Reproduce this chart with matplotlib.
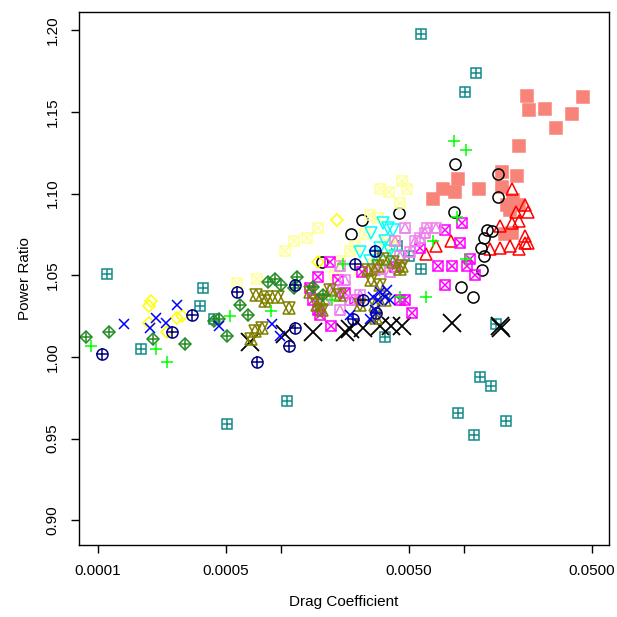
import numpy as np
import matplotlib
matplotlib.use('Agg')
import matplotlib.pyplot as plt

plt.rcParams['font.family'] = ['Liberation Sans', 'DejaVu Sans']

# (drag coefficient, power ratio) per group
teal_x = [1.12e-4, 3.75e-4, 3.6e-4, 4.3e-4, 1.72e-4, 5.1e-4, 1.08e-3, 5.8e-3, 1.16e-2, 1.01e-2,
          4.3e-3, 5.0e-3, 5.8e-3, 3.7e-3, 1.5e-2, 9.3e-3, 1.13e-2, 1.22e-2, 1.4e-2, 1.7e-2]
teal_y = [1.051, 1.042, 1.031, 1.023, 1.005, 0.959, 0.973, 1.198, 1.174, 1.162,
          1.068, 1.062, 1.054, 1.012, 1.020, 0.966, 0.952, 0.988, 0.982, 0.961]

salmon_x = [6.8e-3, 7.7e-3, 8.9e-3, 9.3e-3, 1.21e-2, 1.61e-2, 1.61e-2, 1.72e-2, 1.78e-2, 1.85e-2,
            2.0e-2, 1.67e-2, 1.83e-2, 2.21e-2, 2.26e-2, 2.77e-2, 3.18e-2, 3.9e-2, 4.47e-2, 2.0e-2, 1.95e-2]
salmon_y = [1.097, 1.103, 1.101, 1.109, 1.103, 1.113, 1.104, 1.093, 1.090, 1.096,
            1.093, 1.075, 1.076, 1.160, 1.151, 1.152, 1.140, 1.149, 1.159, 1.129, 1.111]

red_x = [1.83e-2, 2.15e-2, 2.24e-2, 1.92e-2, 1.83e-2, 2.0e-2, 1.57e-2, 1.39e-2, 8.5e-3, 1.57e-2,
         1.78e-2, 2.15e-2, 2.15e-2, 2.24e-2, 2.0e-2, 7.0e-3, 6.2e-3]
red_y = [1.103, 1.093, 1.089, 1.089, 1.082, 1.083, 1.080, 1.066, 1.071, 1.067,
         1.068, 1.070, 1.074, 1.070, 1.066, 1.068, 1.063]

black_o_x = [8.9e-3, 1.53e-2, 1.53e-2, 8.8e-3, 1.34e-2, 1.42e-2, 1.29e-2, 1.24e-2, 1.29e-2, 1.26e-2,
             9.6e-3, 1.12e-2, 2.77e-3, 4.4e-3, 2.41e-3, 1.68e-3]
black_o_y = [1.118, 1.112, 1.098, 1.089, 1.078, 1.077, 1.073, 1.067, 1.062, 1.053,
             1.043, 1.037, 1.084, 1.088, 1.075, 1.058]

bigx_x = [6.8e-4, 1.05e-3, 1.5e-3, 2.24e-3, 2.38e-3, 2.8e-3, 3.5e-3, 4.0e-3, 4.6e-3, 8.6e-3, 1.57e-2, 1.6e-2]
bigx_y = [1.009, 1.014, 1.015, 1.015, 1.017, 1.018, 1.019, 1.019, 1.019, 1.021, 1.019, 1.018]

yellow_x = [1.9e-4, 1.95e-4, 1.9e-4, 2.7e-4, 2.9e-4, 2.38e-4, 2.02e-3, 1.6e-3]
yellow_y = [1.031, 1.034, 1.021, 1.024, 1.025, 1.015, 1.084, 1.058]

lyellow_x = [5.8e-4, 7.4e-4, 1.06e-3, 1.18e-3, 1.39e-3, 1.59e-3, 4.6e-3, 4.5e-3, 3.5e-3, 3.9e-3,
             4.9e-3, 1.97e-3, 2.7e-3, 3.2e-3, 3.6e-3, 4.2e-3, 2.1e-3, 2.38e-3, 2.54e-3, 2.88e-3,
             3.06e-3, 3.4e-3, 3.7e-3, 4.0e-3]
lyellow_y = [1.045, 1.048, 1.065, 1.071, 1.073, 1.079, 1.108, 1.094, 1.103, 1.101,
             1.103, 1.050, 1.053, 1.057, 1.056, 1.071, 1.059, 1.065, 1.068, 1.075,
             1.087, 1.085, 1.071, 1.068]

cyan_x = [3.1e-3, 3.6e-3, 3.85e-3, 4.1e-3, 3.7e-3, 3.95e-3, 3.5e-3, 3.27e-3, 4.2e-3, 3.06e-3, 3.7e-3, 2.7e-3]
cyan_y = [1.076, 1.082, 1.079, 1.078, 1.071, 1.065, 1.067, 1.062, 1.062, 1.059, 1.058, 1.064]

magenta_x = [1.85e-3, 1.59e-3, 1.5e-3, 1.63e-3, 1.88e-3, 1.59e-3, 1.44e-3, 2.05e-3, 2.24e-3, 2.54e-3,
             2.77e-3, 5.75e-3, 7.9e-3, 9.75e-3, 9.5e-3, 1.08e-2, 1.15e-2, 1.04e-2, 8.6e-3, 7.9e-3,
             4.2e-3, 4.76e-3, 5.2e-3, 4.45e-3, 7.2e-3]
magenta_y = [1.058, 1.049, 1.035, 1.026, 1.019, 1.029, 1.042, 1.047, 1.039, 1.035,
             1.052, 1.067, 1.078, 1.082, 1.070, 1.060, 1.050, 1.056, 1.056, 1.044,
             1.055, 1.035, 1.027, 1.035, 1.056]

violet_x = [6.3e-3, 7.0e-3, 4.76e-3, 5.75e-3, 5.1e-3, 4.45e-3, 3.5e-3, 3.95e-3, 2.1e-3, 2.24e-3,
            1.92e-3, 2.38e-3, 2.7e-3, 1.74e-3, 2.1e-3, 3.27e-3, 4.2e-3, 5.4e-3, 6.1e-3]
violet_y = [1.079, 1.079, 1.079, 1.073, 1.064, 1.062, 1.054, 1.052, 1.056, 1.047,
            1.041, 1.035, 1.038, 1.035, 1.029, 1.053, 1.071, 1.071, 1.076]

olive_x = [7.3e-4, 8.2e-4, 8.4e-4, 9.6e-4, 1.11e-3, 7.2e-4, 7.9e-4, 6.9e-4, 2.99e-3, 3.4e-3,
           3.6e-3, 4.45e-3, 4.6e-3, 4.1e-3, 1.44e-3, 1.63e-3, 1.57e-3, 1.67e-3, 1.85e-3, 2.1e-3,
           2.7e-3, 3.27e-3, 3.3e-3, 3.7e-3, 3.1e-3, 3.5e-3]
olive_y = [1.038, 1.034, 1.037, 1.037, 1.030, 1.016, 1.018, 1.011, 1.053, 1.056,
           1.060, 1.054, 1.056, 1.058, 1.040, 1.035, 1.032, 1.029, 1.041, 1.038,
           1.032, 1.032, 1.024, 1.035, 1.047, 1.044]

dgreen_x = [8.6e-5, 1.15e-4, 2.0e-4, 3.0e-4, 4.3e-4, 5.1e-4, 6.0e-4, 6.6e-4, 9.3e-4, 1.0e-3,
            1.22e-3, 1.18e-3, 1.5e-3, 1.7e-3, 8.5e-4, 4.6e-4]
dgreen_y = [1.012, 1.015, 1.011, 1.008, 1.022, 1.013, 1.032, 1.026, 1.048, 1.044,
            1.049, 1.042, 1.043, 1.038, 1.046, 1.023]

navy_x = [1.06e-4, 2.54e-4, 3.26e-4, 5.8e-4, 7.4e-4, 1.11e-3, 1.19e-3, 1.2e-3, 3.27e-3, 2.54e-3,
          3.3e-3, 2.47e-3, 2.8e-3]
navy_y = [1.002, 1.015, 1.026, 1.040, 0.997, 1.007, 1.018, 1.044, 1.065, 1.057,
          1.027, 1.023, 1.035]

blue_x = [1.39e-4, 1.92e-4, 2.07e-4, 2.35e-4, 2.7e-4, 4.6e-4, 8.9e-4, 9.9e-4, 3.2e-3, 3.5e-3,
          3.7e-3, 3.4e-3, 3.95e-3, 3.27e-3, 2.38e-3, 3.06e-3, 3.8e-3]
blue_y = [1.020, 1.018, 1.024, 1.021, 1.032, 1.019, 1.020, 1.013, 1.037, 1.040,
          1.037, 1.035, 1.035, 1.029, 1.026, 1.023, 1.041]

lime_x = [9.2e-5, 2.07e-4, 2.4e-4, 5.3e-4, 8.8e-4, 1.9e-3, 8.8e-3, 1.03e-2, 9.2e-3, 1.03e-2,
          6.2e-3, 4.5e-3, 2.18e-3, 6.8e-3]
lime_y = [1.007, 1.005, 0.997, 1.025, 1.028, 1.035, 1.132, 1.127, 1.086, 1.060,
          1.037, 1.037, 1.057, 1.071]

MS = 7.5
LW = 1.1

fig = plt.figure(figsize=(6.17, 6.17), dpi=100)
ax = fig.add_axes([0.128, 0.117, 0.859, 0.863])


def pts(x, y, marker, color, ms=MS, fill='none', lw=LW):
    ax.plot(x, y, linestyle='none', marker=marker, ms=ms, mec=color,
            mfc=fill, mew=lw)


# square with plus
pts(teal_x, teal_y, 's', '#138a8a')
pts(teal_x, teal_y, '+', '#138a8a', ms=MS * 0.9)
# filled squares
pts(salmon_x, salmon_y, 's', '#f88379', ms=9, fill='#f88379')
pts(red_x, red_y, '^', '#ff0000', ms=8)
pts(black_o_x, black_o_y, 'o', 'black', ms=8)
pts(bigx_x, bigx_y, 'x', 'black', ms=13, lw=1.3)
pts(yellow_x, yellow_y, 'D', '#ffff00', ms=6.5)
pts(lyellow_x, lyellow_y, 's', '#ffff99')
pts(lyellow_x, lyellow_y, 'x', '#ffff99', ms=MS * 0.9)
pts(cyan_x, cyan_y, 'v', '#00ffff', ms=8)
pts(magenta_x, magenta_y, 's', '#ff00ff')
pts(magenta_x, magenta_y, 'x', '#ff00ff', ms=MS * 0.9)
pts(violet_x, violet_y, 's', '#ee82ee')
pts(violet_x, violet_y, '^', '#ee82ee', ms=MS * 0.9)
pts(olive_x, olive_y, '^', '#808000', ms=8)
pts(olive_x, olive_y, 'v', '#808000', ms=8)
pts(dgreen_x, dgreen_y, 'D', '#228b22', ms=6.5)
pts(dgreen_x, dgreen_y, '+', '#228b22', ms=6.5)
pts(navy_x, navy_y, 'o', '#000080', ms=8)
pts(navy_x, navy_y, '+', '#000080', ms=8)
pts(blue_x, blue_y, 'x', '#0000ff', ms=7)
pts(lime_x, lime_y, '+', '#00ff00', ms=8)

ax.set_xscale('log')
ax.set_xlim(7.9e-5, 6.2e-2)
ax.set_ylim(0.885, 1.211)
xt = [0.0001, 0.0005, 0.001, 0.005, 0.01, 0.05]
ax.set_xticks(xt)
ax.set_xticklabels(['0.0001', '0.0005', '', '0.0050', '', '0.0500'])
ax.xaxis.set_minor_locator(matplotlib.ticker.NullLocator())
yt = [0.90, 0.95, 1.00, 1.05, 1.10, 1.15, 1.20]
ax.set_yticks(yt)
ax.set_yticklabels([f'{v:.2f}' for v in yt], rotation=90, va='center')
ax.tick_params(direction='out', length=6, width=1, labelsize=11, pad=8)
for s in ax.spines.values():
    s.set_linewidth(1)
ax.set_xlabel('Drag Coefficient', fontsize=11, labelpad=12)
ax.set_ylabel('Power Ratio', fontsize=11, labelpad=10)

fig.savefig('out.png', dpi=100)
